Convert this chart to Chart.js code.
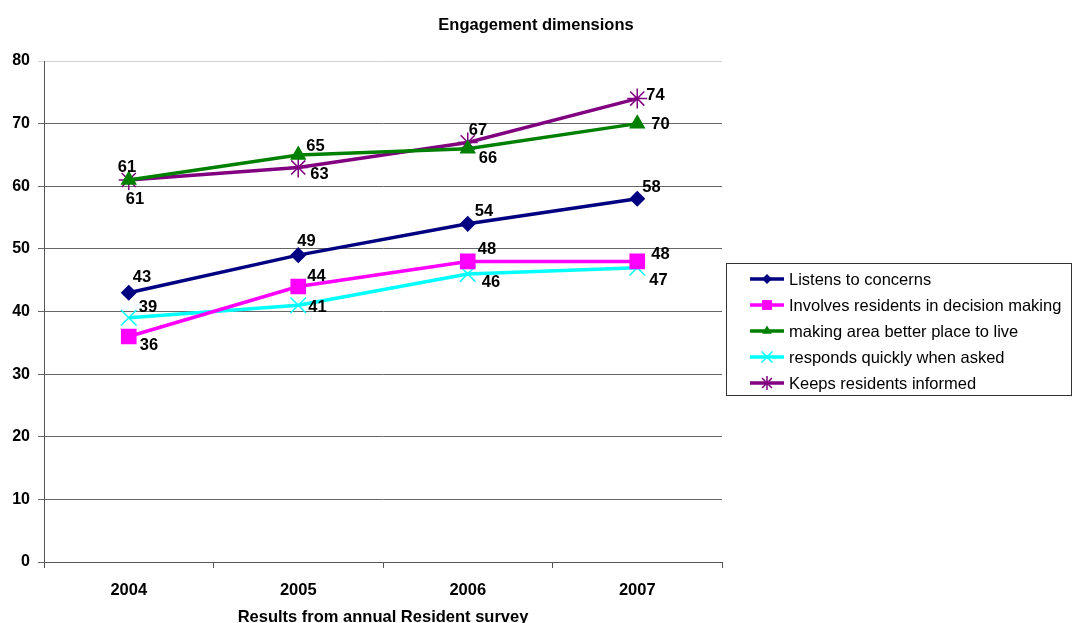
<!DOCTYPE html>
<html>
<head>
<meta charset="utf-8">
<script src="https://cdn.jsdelivr.net/npm/chart.js@4.4.0/dist/chart.umd.min.js"></script>
<style>
  html, body { margin: 0; padding: 0; background: #fff; }
  #wrap { width: 1072px; height: 623px; }
</style>
</head>
<body>
<div id="wrap"><canvas id="canvas-1"></canvas></div>
<script>
'use strict';

var years = ['2004', '2005', '2006', '2007'];
var listens = [43, 49, 54, 58];
var involves = [36, 44, 48, 48];
var betterPlace = [61, 65, 66, 70];
var respondsQuickly = [39, 41, 46, 47];
var keepsInformed = [61, 63, 67, 74];

var seriesNames = [
  'Listens to concerns',
  'Involves residents in decision making',
  'making area better place to live',
  'responds quickly when asked',
  'Keeps residents informed'
];
var seriesColors = ['#000080', '#ff00ff', '#008000', '#00ffff', '#800080'];
var seriesStyles = ['rectRot', 'rect', 'triangle', 'crossRot', 'star'];
var seriesRadius = [7, 10, 8, 11, 10];

// where each value label sits, relative to its point (dx, dy)
var labelOffsets = [
  [[4, -16], [-1, -15], [7, -13], [5, -12]],
  [[11, 8], [9, -11], [10, -13], [14, -8]],
  [[-3, 18], [8, -9], [11, 9], [14, 0]],
  [[10, -11], [10, 1], [14, 8], [12, 12]],
  [[-11, -14], [12, 6], [1, -13], [9, -4]]
];

var FONT = '"Liberation Sans", Arial, sans-serif';

function drawMarker(ctx, style, x, y, r, color) {
  ctx.save();
  ctx.fillStyle = color;
  ctx.strokeStyle = color;
  ctx.lineWidth = 1.5;
  ctx.beginPath();
  if (style === 'rectRot') {
    ctx.moveTo(x, y - r); ctx.lineTo(x + r, y); ctx.lineTo(x, y + r); ctx.lineTo(x - r, y);
    ctx.closePath(); ctx.fill();
  } else if (style === 'rect') {
    var s = r * Math.SQRT1_2;
    ctx.rect(x - s, y - s, 2 * s, 2 * s); ctx.fill();
  } else if (style === 'triangle') {
    ctx.moveTo(x, y - r); ctx.lineTo(x + r * 0.87, y + r * 0.5); ctx.lineTo(x - r * 0.87, y + r * 0.5);
    ctx.closePath(); ctx.fill();
  } else {
    var d = r * Math.SQRT1_2;
    ctx.moveTo(x - d, y - d); ctx.lineTo(x + d, y + d);
    ctx.moveTo(x + d, y - d); ctx.lineTo(x - d, y + d);
    if (style === 'star') {
      ctx.moveTo(x, y - r); ctx.lineTo(x, y + r);
      ctx.moveTo(x - r, y); ctx.lineTo(x + r, y);
    }
    ctx.stroke();
  }
  ctx.restore();
}

var valueLabels = {
  id: 'valueLabels',
  afterDatasetsDraw: function (chart) {
    var ctx = chart.ctx;
    ctx.save();
    ctx.font = 'bold 16.5px ' + FONT;
    ctx.fillStyle = '#000';
    ctx.textAlign = 'left';
    ctx.textBaseline = 'middle';
    chart.data.datasets.forEach(function (ds, i) {
      chart.getDatasetMeta(i).data.forEach(function (pt, j) {
        var off = labelOffsets[i][j];
        ctx.fillText(String(ds.data[j]), pt.x + off[0], pt.y + off[1] + 1);
      });
    });
    ctx.restore();
  }
};

var sideLegend = {
  id: 'sideLegend',
  afterDraw: function (chart) {
    var ctx = chart.ctx;
    var bx = 726.5, by = 263.5, bw = 345, bh = 132;
    ctx.save();
    ctx.strokeStyle = '#333';
    ctx.lineWidth = 1;
    ctx.strokeRect(bx, by, bw, bh);
    ctx.font = '16.5px ' + FONT;
    ctx.textAlign = 'left';
    ctx.textBaseline = 'middle';
    seriesNames.forEach(function (name, i) {
      var y = 279 + i * 26;
      ctx.strokeStyle = seriesColors[i];
      ctx.lineWidth = 3.5;
      ctx.beginPath();
      ctx.moveTo(750, y);
      ctx.lineTo(784, y);
      ctx.stroke();
      drawMarker(ctx, seriesStyles[i], 767, y, seriesRadius[i] * 0.7, seriesColors[i]);
      ctx.fillStyle = '#000';
      ctx.fillText(name, 789, y + 1);
    });
    ctx.restore();
  }
};

var allSeries = [listens, involves, betterPlace, respondsQuickly, keepsInformed];
var datasets = allSeries.map(function (vals, i) {
  return {
    label: seriesNames[i],
    data: vals,
    borderColor: seriesColors[i],
    backgroundColor: seriesColors[i],
    pointBackgroundColor: seriesColors[i],
    pointBorderColor: seriesColors[i],
    pointStyle: seriesStyles[i],
    pointRadius: seriesRadius[i],
    pointBorderWidth: 1.5,
    borderWidth: 3.5,
    tension: 0,
    fill: false
  };
});

var ctx = document.getElementById('canvas-1');
var chart = new Chart(ctx, {
  type: 'line',
  data: { labels: years, datasets: datasets },
  plugins: [valueLabels, sideLegend],
  options: {
    responsive: true,
    maintainAspectRatio: false,
    animation: false,
    layout: { padding: 0 },
    plugins: {
      legend: { display: false },
      tooltip: { enabled: false },
      title: {
        display: true,
        text: 'Engagement dimensions',
        color: '#000',
        font: { family: FONT, size: 16.5, weight: 'bold' },
        padding: { top: 16, bottom: 25.2 }
      }
    },
    scales: {
      x: {
        offset: true,
        grid: { offset: true, drawOnChartArea: false, drawTicks: true, tickLength: 6, color: '#555' },
        border: { color: '#555', width: 1 },
        ticks: { color: '#000', padding: 13, font: { family: FONT, size: 16.5, weight: 'bold' } },
        title: {
          display: true,
          text: 'Results from annual Resident survey',
          color: '#000',
          font: { family: FONT, size: 16.5, weight: 'bold' },
          padding: { top: 0, bottom: -4 }
        },
        afterFit: function (scale) { scale.height = 61; }
      },
      y: {
        min: 0,
        max: 80,
        ticks: { stepSize: 10, color: '#000', padding: 8, font: { family: FONT, size: 16, weight: 'bold' } },
        grid: {
          tickLength: 6,
          color: function (c) { return c.tick && c.tick.value === 80 ? '#d4d4d4' : '#666'; }
        },
        border: { color: '#555', width: 1 },
        afterFit: function (scale) { scale.width = 44; }
      },
      // empty right-hand strip that leaves room for the legend box
      legendSpace: {
        position: 'right',
        type: 'linear',
        display: true,
        ticks: { display: false },
        grid: { drawOnChartArea: false, drawTicks: false },
        border: { display: false },
        afterFit: function (scale) { scale.width = 350; }
      }
    }
  }
});
</script>
</body>
</html>
